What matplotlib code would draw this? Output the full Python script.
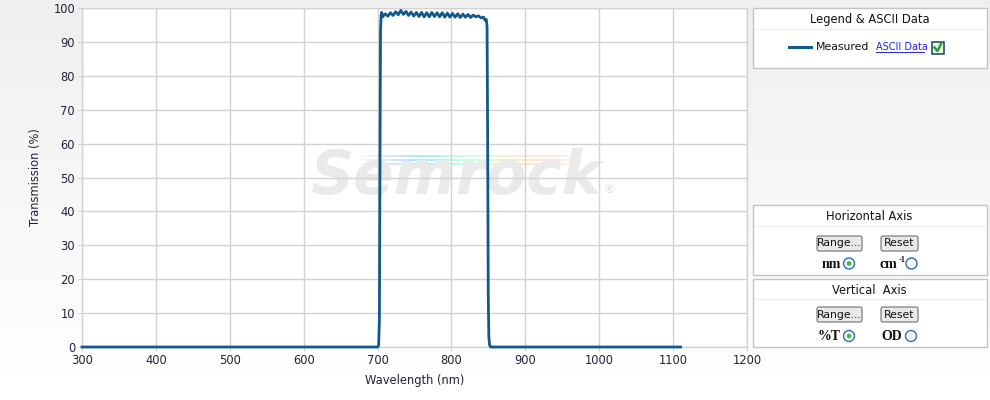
import numpy as np
import matplotlib
matplotlib.use("Agg")
import matplotlib.pyplot as plt
from matplotlib.patches import Rectangle, FancyBboxPatch, Circle

# measured transmission curve: wavelength (nm) vs %T
wavelength = [300, 700, 701.5, 702.5, 703.3, 704.0, 704.8, 705.6,
              707, 710.5, 714, 717.5, 721, 724.5, 728, 731.5, 735, 738.5,
              742, 745.5, 749, 752.5, 756, 759.5, 763, 766.5, 770, 773.5,
              777, 780.5, 784, 787.5, 791, 794.5, 798, 801.5, 805, 808.5,
              812, 815.5, 819, 822.5, 826, 829.5, 833, 836.5, 840, 843.5,
              845.5, 847.2, 848.2, 849.0, 849.8, 850.6, 851.6, 853, 1110]
transmission = [0, 0, 0.5, 8, 55, 93, 97.8, 98.7,
                97.4, 98.3, 97.6, 98.6, 97.8, 98.9, 98.0, 99.3, 98.1, 99.0,
                97.8, 98.8, 97.6, 98.7, 97.5, 98.7, 97.4, 98.6, 97.4, 98.7,
                97.5, 98.6, 97.4, 98.6, 97.3, 98.5, 97.3, 98.4, 97.3, 98.3,
                97.2, 98.2, 97.3, 98.1, 97.2, 97.9, 97.4, 97.7, 97.1, 97.3,
                96.4, 96.6, 94.5, 62, 16, 3, 0.6, 0, 0]

x_ticks = [300, 400, 500, 600, 700, 800, 900, 1000, 1100, 1200]
y_ticks = [0, 10, 20, 30, 40, 50, 60, 70, 80, 90, 100]

line_color = "#12588a"
grid_color = "#d2d2d2"
text_color = "#22223a"

fig = plt.figure(figsize=(9.9, 4.0), dpi=100)

# page background gradient
bg = fig.add_axes([0, 0, 1, 1], zorder=0)
grad = np.linspace(0.935, 1.0, 200).reshape(-1, 1)
bg.imshow(grad, cmap="gray", vmin=0, vmax=1, aspect="auto", extent=[0, 1, 0, 1])
bg.axis("off")

# main plot
ax = fig.add_axes([82 / 990, 1 - 347 / 400, 665 / 990, 339 / 400], zorder=1)
ax.set_facecolor("white")
ax.plot(wavelength, transmission, color=line_color, lw=2, clip_on=False, zorder=3)

ax.set_xlim(300, 1200)
ax.set_ylim(0, 100)
ax.set_xticks(x_ticks)
ax.set_yticks(y_ticks)
ax.grid(True, color=grid_color, lw=1)
ax.set_axisbelow(True)
for s in ax.spines.values():
    s.set_color(grid_color)
    s.set_linewidth(1)
ax.tick_params(length=3, color=grid_color, labelsize=8.3, labelcolor=text_color, pad=2)
ax.set_xlabel("Wavelength (nm)", fontsize=8.3, color=text_color, labelpad=5)
ax.set_ylabel("Transmission (%)", fontsize=8.3, color=text_color, labelpad=8)

# watermark
ax.text(0.562, 0.50, "Semrock", transform=ax.transAxes, fontsize=43,
        fontstyle="italic", fontweight="bold", color="#eaeaea",
        ha="center", va="center", zorder=0.3)
ax.text(0.792, 0.463, "®", transform=ax.transAxes, fontsize=8,
        color="#dddddd", ha="center", va="center", zorder=0.3)
n = 256
cols = plt.cm.rainbow(np.linspace(0, 1, n))
fade = np.minimum(np.linspace(0, 3, n), np.linspace(3, 0, n)).clip(0, 1)
cols[:, 3] = 0.4 * fade
streak = np.zeros((5, n, 4))
streak[0] = cols
streak[2] = cols
streak[4] = cols
ax.imshow(streak, extent=[672, 975, 53.8, 56.6], aspect="auto",
          interpolation="nearest", zorder=0.2)
ax.set_xlim(300, 1200)
ax.set_ylim(0, 100)

# side panels (pixel coordinates)
ov = fig.add_axes([0, 0, 1, 1], zorder=2)
ov.set_xlim(0, 990)
ov.set_ylim(400, 0)
ov.axis("off")
ov.patch.set_alpha(0)

panel_ec = "#c4c4c4"


def panel(y0, y1, title, sep_y):
    ov.add_patch(Rectangle((752.5, y0), 234.5, y1 - y0, fc="white", ec=panel_ec, lw=1))
    ov.plot([755, 984], [sep_y, sep_y], color="#efefef", lw=1)
    ov.text(869.5, y0 + 12, title, fontsize=8.3, color="#111111", ha="center", va="center")


def button(x, y, w, label):
    ov.add_patch(FancyBboxPatch((x, y), w, 15, boxstyle="round,pad=0,rounding_size=2",
                                fc="#e9e9e9", ec="#707070", lw=0.8))
    ov.text(x + w / 2, y + 7.5, label, fontsize=7.8, color="#111111", ha="center", va="center")


def radio(x, y, on):
    ov.add_patch(Circle((x, y), 5.5, fc="#f4f8fc", ec="#2f6ea5", lw=1))
    if on:
        ov.add_patch(Circle((x, y), 2.3, fc="#3cb83c", ec="none"))


panel(8, 68, "Legend & ASCII Data", 28.5)
ov.plot([789, 811], [47, 47], color=line_color, lw=2.2)
ov.text(816, 47, "Measured", fontsize=7.8, color="#111111", ha="left", va="center")
ov.text(876, 47, "ASCII Data", fontsize=7, color="#2222ee", ha="left", va="center")
ov.plot([876, 924], [52, 52], color="#2222ee", lw=0.7)
ov.add_patch(Rectangle((931.5, 41.5), 12, 12, fc="#eef3ee", ec="#24506e", lw=1.2))
ov.plot([934.5, 937.5, 941], [47.5, 51, 44], color="#28a428", lw=1.8)

serif = dict(fontsize=10, fontfamily="Liberation Serif", fontweight="bold",
             color="#111111", va="center")

panel(205, 275, "Horizontal Axis", 226)
button(817, 236, 45, "Range...")
button(881, 236, 37, "Reset")
ov.text(841.5, 264, "nm", ha="right", **serif)
radio(849, 263.5, True)
ov.text(880, 264, "cm", ha="left", **serif)
ov.text(898.5, 259.5, "-1", fontsize=6, fontfamily="Liberation Serif", fontweight="bold",
        color="#111111", ha="left", va="center")
radio(911.5, 263.5, False)

panel(278.5, 346.5, "Vertical  Axis", 299)
button(817, 307, 45, "Range...")
button(881, 307, 37, "Reset")
ov.text(840.5, 336.5, "%T", ha="right", **serif)
radio(849, 336, True)
ov.text(881.5, 336.5, "OD", ha="left", **serif)
radio(911, 336, False)

fig.savefig("out.png", dpi=100)
plt.close(fig)
